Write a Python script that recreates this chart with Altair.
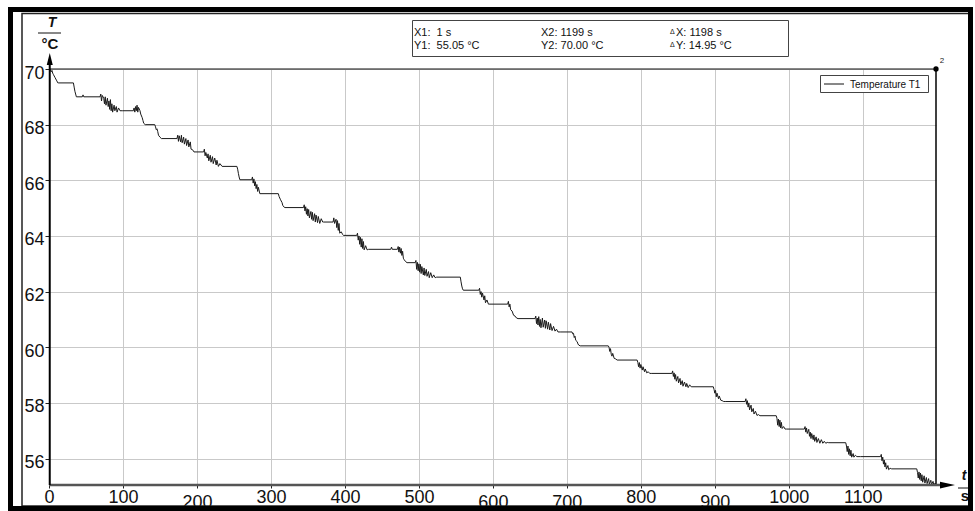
import altair as alt
import pandas as pd

# ---------------- data ----------------
time_s = [
    1, 2, 3, 4, 5, 6, 7, 8, 10, 12, 13, 33, 34, 35, 36, 37, 45, 46, 47,
    69, 70, 71, 72, 74, 75, 76, 77, 79, 80, 81, 82, 83, 84, 85, 86, 88, 89, 91, 92, 94, 96, 99,
    114, 115, 116, 117, 118, 119, 120, 121, 123, 124, 126, 127, 128, 130,
    143, 144, 145, 146, 147, 148, 150, 152,
    173, 174, 175, 176, 178, 179, 180, 182, 183, 185, 186, 188, 189, 191, 192, 194, 196,
    209, 210, 211, 212, 214, 215, 216, 218, 219, 221, 222, 224, 226, 227, 229, 231, 234,
    254, 255, 256, 257, 258, 274, 275, 276, 277, 278, 279, 280, 281, 282, 283, 285,
    310, 311, 313, 315, 316, 318, 319,
    344, 345, 346, 347, 348, 349, 350, 351, 352, 354, 355, 356, 357, 359, 360, 361, 363, 364, 366, 368, 370, 371,
    384, 385, 386, 388, 389, 390, 391, 392, 393, 395, 397, 398,
    416, 417, 418, 419, 420, 421, 422, 423, 424, 425, 426, 428, 430, 432,
    462, 463, 464, 471, 472, 473, 474, 475, 476, 477, 478, 479, 480, 482, 484,
    495, 496, 497, 498, 499, 500, 501, 502, 503, 504, 506, 507, 508, 510, 511, 513, 514, 516, 518, 520, 522, 524,
    556, 557, 558, 559, 560,
    581, 582, 583, 584, 585, 586, 588, 589, 590, 592, 594, 596,
    620, 621, 622, 623, 624, 626, 628, 630, 632, 634,
    657, 658, 659, 660, 661, 662, 663, 664, 665, 667, 668, 670, 671, 672, 674, 675, 677, 678, 680, 682, 684, 686, 688, 691,
    707, 708, 709, 710, 711, 712, 714, 715, 716, 718,
    756, 757, 758, 759, 760, 761, 762, 764, 766, 768,
    795, 796, 797, 798, 799, 800, 802, 803, 805, 806, 808, 810, 812, 814,
    842, 843, 844, 845, 846, 847, 848, 850, 851, 853, 854, 856, 857, 859, 861, 862, 864, 866, 868, 869,
    898, 899, 900, 901, 902, 903, 905, 906, 908, 910, 912, 914,
    941, 942, 943, 944, 945, 946, 947, 949, 950, 952, 953, 955, 957, 959, 961,
    983, 984, 985, 986, 987, 988, 989, 990, 991, 993, 995, 997,
    1021, 1022, 1023, 1024, 1025, 1027, 1028, 1029, 1030, 1031, 1033, 1034, 1035, 1037, 1038, 1040, 1042, 1044, 1046, 1048, 1050, 1052, 1054,
    1077, 1078, 1079, 1080, 1081, 1082, 1083, 1084, 1085, 1087, 1088, 1090, 1092, 1097,
    1124, 1125, 1126, 1127, 1128, 1129, 1130, 1131, 1132, 1134, 1135, 1137, 1139,
    1173, 1174, 1175, 1176, 1177, 1178, 1179, 1180, 1181, 1183, 1184, 1186, 1187, 1189, 1190, 1192, 1193, 1195, 1196, 1198, 1199,
]
temp_c = [
    70.0, 69.95, 69.9, 69.95, 69.85, 69.8, 69.75, 69.7, 69.6, 69.5, 69.5, 69.5, 69.35, 69.2, 69.1, 69.0, 69.0, 69.07, 69.0,
    69.0, 69.1, 68.85, 69.05, 68.95, 68.75, 69.0, 68.7, 68.95, 68.65, 68.85, 68.55, 68.9, 68.5, 68.75, 68.45, 68.7, 68.5, 68.65, 68.45, 68.6, 68.5, 68.5,
    68.5, 68.6, 68.45, 68.65, 68.5, 68.7, 68.45, 68.62, 68.5, 68.38, 68.25, 68.15, 68.05, 68.0,
    68.0, 67.92, 67.82, 67.85, 67.75, 67.62, 67.55, 67.5,
    67.5, 67.62, 67.4, 67.6, 67.38, 67.62, 67.35, 67.55, 67.3, 67.5, 67.25, 67.45, 67.2, 67.38, 67.12, 67.1, 67.02,
    67.02, 67.12, 66.88, 67.0, 66.8, 66.95, 66.7, 66.9, 66.65, 66.85, 66.6, 66.8, 66.55, 66.72, 66.5, 66.6, 66.5,
    66.5, 66.4, 66.25, 66.12, 66.02, 66.02, 66.12, 65.9, 66.05, 65.8, 65.95, 65.7, 65.85, 65.6, 65.75, 65.52,
    65.52, 65.42, 65.3, 65.2, 65.1, 65.03, 65.02,
    65.02, 65.12, 64.9, 65.05, 64.78, 64.98, 64.72, 64.95, 64.65, 64.88, 64.6, 64.85, 64.55, 64.8, 64.5, 64.75, 64.48, 64.7, 64.45, 64.62, 64.5, 64.5,
    64.5, 64.65, 64.45, 64.6, 64.3, 64.55, 64.2, 64.45, 64.1, 64.15, 64.05, 64.02,
    64.02, 64.1, 63.85, 64.0, 63.7, 63.95, 63.6, 63.9, 63.55, 63.8, 63.5, 63.65, 63.5, 63.52,
    63.52, 63.6, 63.52, 63.52, 63.62, 63.42, 63.6, 63.38, 63.55, 63.3, 63.45, 63.2, 63.15, 63.08, 63.04,
    63.04, 63.12, 62.8, 63.05, 62.75, 63.0, 62.7, 62.98, 62.65, 62.9, 62.6, 62.85, 62.58, 62.8, 62.55, 62.72, 62.5, 62.68, 62.5, 62.6, 62.5, 62.52,
    62.52, 62.35, 62.2, 62.1, 62.05,
    62.05, 62.12, 61.9, 62.0, 61.8, 61.95, 61.7, 61.85, 61.6, 61.7, 61.55, 61.55,
    61.55, 61.65, 61.45, 61.55, 61.35, 61.3, 61.15, 61.12, 61.05, 61.03,
    61.03, 61.12, 60.85, 61.05, 60.8, 61.1, 60.75, 61.0, 60.7, 61.05, 60.72, 60.98, 60.68, 60.95, 60.65, 60.9, 60.62, 60.85, 60.6, 60.75, 60.58, 60.65, 60.55, 60.55,
    60.55, 60.48, 60.5, 60.35, 60.4, 60.25, 60.2, 60.12, 60.08, 60.05,
    60.05, 60.0, 59.85, 59.95, 59.75, 59.68, 59.78, 59.6, 59.58, 59.54,
    59.54, 59.45, 59.3, 59.45, 59.25, 59.38, 59.18, 59.3, 59.12, 59.22, 59.08, 59.12, 59.06, 59.06,
    59.06, 59.15, 58.95, 59.08, 58.85, 59.02, 58.78, 58.95, 58.72, 58.88, 58.65, 58.8, 58.6, 58.75, 58.58, 58.7, 58.55, 58.65, 58.58, 58.58,
    58.58, 58.48, 58.35, 58.45, 58.22, 58.35, 58.15, 58.25, 58.1, 58.08, 58.05, 58.05,
    58.05, 58.15, 57.95, 58.08, 57.85, 58.0, 57.75, 57.92, 57.68, 57.8, 57.6, 57.7, 57.55, 57.58, 57.54,
    57.54, 57.45, 57.2, 57.42, 57.15, 57.38, 57.1, 57.3, 57.08, 57.15, 57.06, 57.06,
    57.06, 57.15, 56.95, 57.1, 56.9, 57.05, 56.8, 56.95, 56.72, 56.9, 56.68, 56.85, 56.62, 56.78, 56.58, 56.72, 56.55, 56.68, 56.55, 56.62, 56.55, 56.58, 56.57,
    56.57, 56.45, 56.25, 56.45, 56.15, 56.35, 56.1, 56.3, 56.05, 56.18, 56.05, 56.12, 56.07, 56.07,
    56.07, 56.15, 55.92, 56.05, 55.8, 55.95, 55.7, 55.85, 55.62, 55.75, 55.6, 55.65, 55.63,
    55.63, 55.5, 55.3, 55.52, 55.25, 55.48, 55.2, 55.42, 55.15, 55.38, 55.12, 55.32, 55.1, 55.28, 55.08, 55.22, 55.06, 55.18, 55.06, 55.12, 55.05,
]
assert len(time_s) == len(temp_c)

series_name = "Temperature T1"
x_ticks = [0, 100, 200, 300, 400, 500, 600, 700, 800, 900, 1000, 1100]
y_ticks = [56, 58, 60, 62, 64, 66, 68, 70]
lowered_x_labels = [200, 600, 700, 900]

cursor_x1, cursor_x2 = 1, 1199          # s
cursor_y1, cursor_y2 = 55.05, 70.00     # °C
info_col1 = ["X1:\u00a0 1 s", "Y1:\u00a0 55.05 °C"]
info_col2 = ["X2: 1199 s", "Y2: 70.00 °C"]
info_col3 = ["X: 1198 s", "Y: 14.95 °C"]

# ---------------- chart ----------------
W, H = 887, 416
PAD = {"left": 49, "top": 69, "right": 39, "bottom": 26}
FONT = "Liberation Sans"

df = pd.DataFrame({"t": time_s, "T": temp_c})
one = pd.DataFrame({"k": [0]})
cur = pd.DataFrame({"x1": [cursor_x1], "x2": [cursor_x2], "y1": [cursor_y1], "y2": [cursor_y2]})

xs = alt.Scale(domain=[0, 1199], nice=False, zero=False)
ys = alt.Scale(domain=[55.05, 70], nice=False, zero=False)

x_axis = alt.Axis(
    values=x_ticks, title=None, domain=False, grid=True, gridColor="#c9c9c9", gridWidth=1,
    tickColor="#222", tickSize=3, labelFontSize=18, labelFont=FONT, labelColor="#111",
    labelOverlap=False, labelFlush=False, format="d",
    labelPadding={"condition": {"test": f"indexof({lowered_x_labels}, datum.value) >= 0", "value": 5}, "value": 0},
)
y_axis = alt.Axis(
    values=y_ticks, title=None, domain=False, grid=True, gridColor="#c9c9c9", gridWidth=1,
    tickColor="#222", tickSize=4, labelFontSize=18, labelFont=FONT, labelColor="#111",
    labelPadding=1, labelOffset=4, labelOverlap=False, format="d",
)

line = alt.Chart(df).mark_line(color="#1a1a1a", strokeWidth=1).encode(
    x=alt.X("t:Q", scale=xs, axis=x_axis),
    y=alt.Y("T:Q", scale=ys, axis=y_axis),
)

# cursors / axes
x2_rule = alt.Chart(cur).mark_rule(color="#000", strokeWidth=1.5).encode(
    x=alt.X("x2:Q", scale=xs), y=alt.value(0), y2=alt.value(H))
y2_rule = alt.Chart(cur).mark_rule(color="#111", strokeWidth=1.2).encode(
    y=alt.Y("y2:Q", scale=ys), x=alt.value(0), x2=alt.value(W))
y_axis_line = alt.Chart(cur).mark_rule(color="#000", strokeWidth=2).encode(
    x=alt.X("x1:Q", scale=xs), y=alt.value(-10), y2=alt.value(H))
x_axis_line = alt.Chart(cur).mark_rule(color="#555", strokeWidth=2.5).encode(
    y=alt.Y("y1:Q", scale=ys), x=alt.value(0), x2=alt.value(895))
y_arrow = alt.Chart(cur).mark_point(shape="M0,-1L0.5,1L-0.5,1Z", filled=True, color="#000",
                                    opacity=1, size=144).encode(
    x=alt.X("x1:Q", scale=xs), y=alt.value(-10))
x_arrow = alt.Chart(cur).mark_point(shape="M1,0L-1,-0.45L-1,0.45Z", filled=True, color="#000",
                                    opacity=1, size=225).encode(
    y=alt.Y("y1:Q", scale=ys), x=alt.value(898.5))
dot = alt.Chart(cur).mark_point(filled=True, color="#000", opacity=1, size=28).encode(
    x=alt.X("x2:Q", scale=xs), y=alt.Y("y2:Q", scale=ys))
dot_lbl = alt.Chart(cur).mark_text(text="2", fontSize=8, font=FONT, color="#222",
                                   dx=6, dy=-8).encode(
    x=alt.X("x2:Q", scale=xs), y=alt.Y("y2:Q", scale=ys))

# frame
frame = alt.Chart(one).mark_rect(fill=None, stroke="#000", strokeWidth=5).encode(
    x=alt.value(-38.5), x2=alt.value(921.5), y=alt.value(-59.5), y2=alt.value(439.5))
inner = alt.Chart(one).mark_rect(fill=None, stroke="#222", strokeWidth=1.5).encode(
    x=alt.value(-27), x2=alt.value(921), y=alt.value(-55.5), y2=alt.value(437))

# info box
info_box = alt.Chart(one).mark_rect(fill="white", stroke="#444", strokeWidth=1).encode(
    x=alt.value(363.5), x2=alt.value(739.5), y=alt.value(-48.5), y2=alt.value(-12.5))
def txt(s, x, y, size=11, **kw):
    return alt.Chart(one).mark_text(text=s, align="left", baseline="alphabetic", font=FONT,
                                    fontSize=size, color="#111", **kw).encode(
        x=alt.value(x), y=alt.value(y))
info = [
    txt(info_col1[0], 365, -33), txt(info_col1[1], 365, -20),
    txt(info_col2[0], 492, -33), txt(info_col2[1], 492, -20),
    txt("\u0394", 621, -35, size=7), txt(info_col3[0], 627, -33),
    txt("\u0394", 621, -22, size=7), txt(info_col3[1], 627, -20),
]

# legend
leg_box = alt.Chart(one).mark_rect(fill="white", stroke="#444", strokeWidth=1).encode(
    x=alt.value(771.5), x2=alt.value(879.5), y=alt.value(6.5), y2=alt.value(23.5))
leg_line = alt.Chart(one).mark_rule(color="#111", strokeWidth=1).encode(
    x=alt.value(775), x2=alt.value(795), y=alt.value(15))
leg_txt = txt(series_name, 801, 18.5, size=10)

# axis unit fractions
def ctxt(s, x, y, size=14, **kw):
    return alt.Chart(one).mark_text(text=s, align="center", baseline="alphabetic", font=FONT,
                                    fontSize=size, color="#111", **kw).encode(
        x=alt.value(x), y=alt.value(y))
frac_y = [
    ctxt("T", 3, -42, size=14, fontStyle="italic", fontWeight="bold"),
    alt.Chart(one).mark_rule(color="#111", strokeWidth=1).encode(
        x=alt.value(-11), x2=alt.value(12), y=alt.value(-36)),
    ctxt("°C", 1, -20, size=15, fontWeight="bold"),
]
frac_x = [
    ctxt("t", 915, 411, size=14, fontStyle="italic", fontWeight="bold"),
    alt.Chart(one).mark_rule(color="#111", strokeWidth=1).encode(
        x=alt.value(909), x2=alt.value(922), y=alt.value(419)),
    ctxt("s", 916, 432, size=15, fontWeight="bold"),
]

chart = alt.layer(
    line, x2_rule, y2_rule, x_axis_line, y_axis_line, y_arrow, x_arrow, dot, dot_lbl,
    leg_box, leg_line, leg_txt, info_box, *info, *frac_y, *frac_x, inner, frame,
).properties(
    width=W, height=H,
    autosize=alt.AutoSizeParams(type="none"),
    padding=PAD,
    background="white",
).configure_view(stroke=None)

chart.save("out.html", embed_options={"renderer": "svg", "actions": False})
